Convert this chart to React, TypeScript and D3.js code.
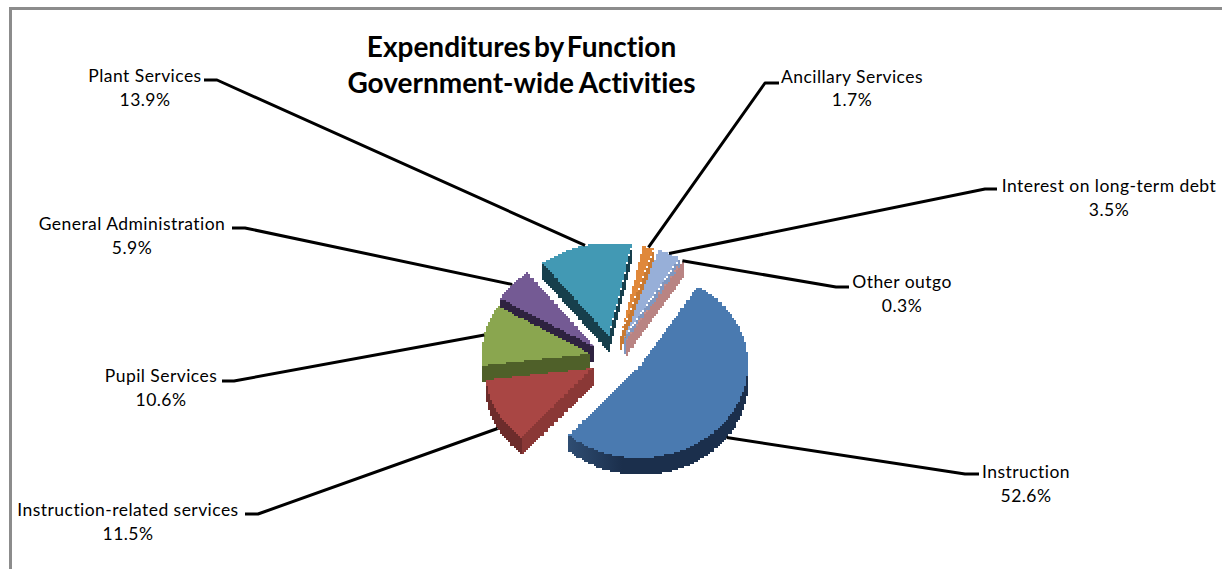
import React from "react";
import * as d3 from "d3";

// Share of government-wide expenditures, in slice order (clockwise).
const categories = [
  "Instruction",
  "Instruction-related services",
  "Pupil Services",
  "General Administration",
  "Plant Services",
  "Ancillary Services",
  "Interest on long-term debt",
  "Other outgo",
];
const shares = [52.6, 11.5, 10.6, 5.9, 13.9, 1.7, 3.5, 0.3];
const titleLines = ["Expenditures by Function", "Government-wide Activities"];

// Face, front-wall and cut-wall shades for each slice.
const faceColors = ["#4a7ab0", "#a94644", "#8aa64f", "#745a94", "#4299b4", "#e0883a", "#97afd8", "#c48e8c"];
const rimColors = ["#1b2f4c", "#6d2c2b", "#4f6029", "#2e2240", "#173f4c", "#9a5a22", "#6f86ac", "#a87472"];
const cutColors = ["#1b2f4c", "#8a3836", "#4f6029", "#2e2240", "#173f4c", "#c97a32", "#7f97c0", "#b98483"];

// Projection of the tilted pie.
const CX = 616;
const CY = 351;
const RX = 108;
const TILT = 0.86;
const DEPTH = 17;
const FIRST_ANGLE = (32 * Math.PI) / 180;
const STAIR = 2;

// How far each slice is pulled away from the pie centre.
const pullX = [24, -23, -26, -23, -7, 4, 8, 10];
const pullY = [14, 17, 3, -5, -15, -14, -13, -11];

// Label centre, baselines, and where each leader leaves its label.
const labelX = [1026, 128, 161, 132, 145, 852, 1109, 902];
const labelY = [478, 516, 382, 230, 82, 83, 192, 288];
const lineGap = [24, 24, 24, 24, 24, 23, 24, 24];
const elbowX = [965, 258, 234, 245, 217, 765, 985, 836];
const stubX = [979, 245, 222, 232, 204, 779, 997, 849];
const stubY = [474, 514, 381, 228, 80, 83, 189, 287];

type Pt = [number, number];

const FONT = "Lato, 'Open Sans', sans-serif";

// Redraws an outline on a coarse pixel grid, which gives the stepped edge.
function stepped(points: Pt[]): Pt[] {
  const snap = (v: number) => Math.round(v / STAIR) * STAIR;
  const out: Pt[] = [];
  points.forEach((p, i) => {
    const q = points[(i + 1) % points.length];
    const n = Math.max(1, Math.ceil(Math.hypot(q[0] - p[0], q[1] - p[1]) / STAIR));
    for (let s = 0; s < n; s++) {
      const x = snap(p[0] + ((q[0] - p[0]) * s) / n);
      const y = snap(p[1] + ((q[1] - p[1]) * s) / n);
      const last = out[out.length - 1];
      if (last && last[0] !== x && last[1] !== y) out.push([x, last[1]]);
      if (!last || last[0] !== x || last[1] !== y) out.push([x, y]);
    }
  });
  return out;
}

const outline = d3.line<Pt>().curve(d3.curveLinear);
const closed = (pts: Pt[]) => (outline(stepped(pts)) ?? "") + "Z";

export default function App() {
  const arcs = d3
    .pie<number>()
    .sort(null)
    .startAngle(FIRST_ANGLE)
    .endAngle(FIRST_ANGLE + 2 * Math.PI)(shares);

  const slices = arcs.map((a, i) => {
    const ax = CX + pullX[i];
    const ay = CY + pullY[i];
    const at = (t: number, r = RX): Pt => [ax + r * Math.sin(t), ay - r * TILT * Math.cos(t)];
    const span = d3.range(0, 61).map((s) => a.startAngle + ((a.endAngle - a.startAngle) * s) / 60);
    const rim = span.map((t) => at(t));
    const apex: Pt = [ax, ay];
    const down = (p: Pt): Pt => [p[0], p[1] + DEPTH];

    // Front-facing part of the outer wall.
    const frontTs = span.filter((t) => Math.cos(t) < 0.03);
    const front: Pt[] | null = frontTs.length > 1
      ? [...frontTs.map((t) => at(t)), ...frontTs.slice().reverse().map((t) => down(at(t)))]
      : null;

    // Flat walls along the two cut edges, shown only when they face the viewer.
    const walls: Pt[][] = [];
    if (Math.sin(a.startAngle) < -0.02) {
      const p = at(a.startAngle);
      walls.push([apex, p, down(p), down(apex)]);
    }
    if (Math.sin(a.endAngle) > 0.02) {
      const p = at(a.endAngle);
      walls.push([apex, p, down(p), down(apex)]);
    }

    const mid = (a.startAngle + a.endAngle) / 2;
    const edge = at(mid);
    const anchor: Pt = Math.cos(mid) < 0 ? down(edge) : edge;
    return { i, face: [apex, ...rim], front, walls, anchor, depthKey: ay - RX * TILT * Math.cos(mid) };
  });

  const drawOrder = slices.slice().sort((p, q) => p.depthKey - q.depthKey);

  return (
    <svg
      width={1222}
      height={569}
      viewBox="0 0 1222 569"
      style={{ position: "absolute", left: 0, top: 0, display: "block", background: "#fff", fontVariantLigatures: "none" }}
    >
      <defs>
        <linearGradient id="instruction-rim" x1="0" x2="1" y1="0" y2="0">
          <stop offset="0" stopColor="#2f4d72" />
          <stop offset="0.3" stopColor="#1b2f4c" />
          <stop offset="1" stopColor="#1b2f4c" />
        </linearGradient>
      </defs>

      {/* Chart frame: only the top and left edges fall inside the canvas */}
      <path d="M10.5 569V8.5H1222" fill="none" stroke="#8c8c8c" strokeWidth={3} />

      {titleLines.map((line, i) => (
        <text
          key={line}
          x={521.5}
          y={57 + i * 36}
          textAnchor="middle"
          fontFamily={FONT}
          fontWeight={700}
          fontSize={28}
          fill="#000"
          wordSpacing={i === 0 ? -3.5 : -1}
        >
          {line}
        </text>
      ))}

      {drawOrder.map((s) => (
        <g key={categories[s.i]}>
          {s.walls.map((w, j) => (
            <path key={j} d={closed(w)} fill={cutColors[s.i]} />
          ))}
          {s.front && (
            <path
              d={closed(s.front)}
              fill={s.i === 0 ? "url(#instruction-rim)" : rimColors[s.i]}
            />
          )}
          <path d={closed(s.face as Pt[])} fill={faceColors[s.i]} />
        </g>
      ))}

      {slices.map((s) => (
        <polyline
          key={categories[s.i]}
          points={[[stubX[s.i], stubY[s.i]], [elbowX[s.i], stubY[s.i]], s.anchor].map((p) => p.join(",")).join(" ")}
          fill="none"
          stroke="#000"
          strokeWidth={3}
          strokeLinejoin="round"
        />
      ))}

      {categories.map((name, i) => (
        <text key={name} textAnchor="middle" fontFamily={FONT} fontSize={17.5} letterSpacing={0.45} fill="#000">
          <tspan x={labelX[i]} y={labelY[i]}>{name}</tspan>
          <tspan x={labelX[i]} y={labelY[i] + lineGap[i]}>{d3.format(".1f")(shares[i])}%</tspan>
        </text>
      ))}
    </svg>
  );
}
